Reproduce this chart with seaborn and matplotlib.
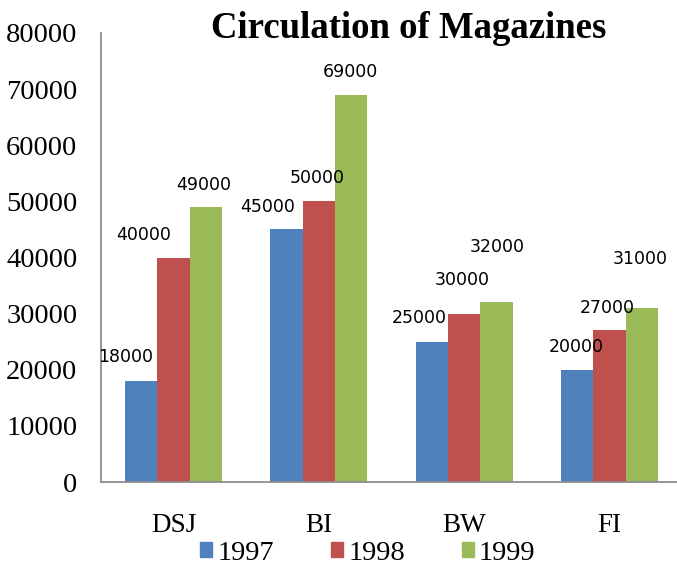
import matplotlib
matplotlib.use("Agg")
import matplotlib.pyplot as plt
import matplotlib.patches as mpatches
import seaborn as sns
import pandas as pd

# ---- data ----
categories = ["DSJ", "BI", "BW", "FI"]
years = ["1997", "1998", "1999"]
values_1997 = [18000, 45000, 25000, 20000]
values_1998 = [40000, 50000, 30000, 27000]
values_1999 = [49000, 69000, 32000, 31000]
colors = ["#4F81BD", "#C0504D", "#9BBB59"]
title = "Circulation of Magazines"

# label offsets (pixels) relative to bar top-centre, per year then per category
label_dx = [[-16, -19, -13, -1], [-30, -2, -2, -2], [-2, -1, 1, -1]]
label_dy = [[24, 22, 24, 23], [23, 23, 34, 22], [22, 23, 55, 49]]

rows = []
for yr, vals in zip(years, [values_1997, values_1998, values_1999]):
    for c, v in zip(categories, vals):
        rows.append({"Magazine": c, "Year": yr, "Circulation": v})
df = pd.DataFrame(rows)

sns.set_style("white")
plt.rcParams["font.family"] = ["DejaVu Sans"]
plt.rcParams["text.color"] = "black"

W, H = 677, 567
fig = plt.figure(figsize=(W / 100, H / 100), dpi=100)
ax = fig.add_axes([101 / W, (H - 482) / H, 581 / W, 449 / H])

sns.barplot(data=df, x="Magazine", y="Circulation", hue="Year",
            palette=colors, width=0.667, saturation=1, ax=ax,
            linewidth=0, legend=False, errorbar=None)

ax.set_ylim(0, 80000)
ax.set_xlim(-0.5, len(categories) - 0.5)
ax.set_yticks(range(0, 80001, 10000))
ax.set_yticklabels([str(v) for v in range(0, 80001, 10000)],
                   family="Liberation Serif", fontsize=20.5)
ax.set_xticks(range(len(categories)))
ax.set_xticklabels(categories, family="Liberation Serif", fontsize=19.5)
ax.set_xlabel("")
ax.set_ylabel("")

spine_col = "#8C8C8C"
for s in ["top", "right"]:
    ax.spines[s].set_visible(False)
for s in ["left", "bottom"]:
    ax.spines[s].set_color(spine_col)
    ax.spines[s].set_linewidth(1.3)

ax.tick_params(axis="y", which="major", direction="out", length=6,
               width=1.3, color=spine_col, pad=11, labelcolor="black")
ax.tick_params(axis="x", which="major", length=0, pad=22, labelcolor="black")
ax.set_xticks([i - 0.5 for i in range(len(categories) + 1)], minor=True)
ax.tick_params(axis="x", which="minor", direction="out", length=6,
               width=1.3, color=spine_col)

# value labels
for yi, cont in enumerate(ax.containers):
    for ci, bar in enumerate(cont):
        h = bar.get_height()
        ax.annotate(f"{int(h)}", (bar.get_x() + bar.get_width() / 2, h),
                    xytext=(label_dx[yi][ci], label_dy[yi][ci]),
                    textcoords="offset pixels", ha="center", va="center",
                    fontsize=12.5, family="DejaVu Sans", color="black")

fig.text(409 / W, 1 - 28 / H, title, ha="center", va="center",
         family="Liberation Serif", fontweight="bold", fontsize=26.5,
         color="black")

handles = [mpatches.Patch(color=c, label=y) for c, y in zip(colors, years)]
leg = fig.legend(handles=handles, loc="center", bbox_to_anchor=(368 / W, 1 - 553 / H),
                 ncol=3, frameon=False, handlelength=0.42, handleheight=0.42,
                 handletextpad=0.18, columnspacing=2.0, labelcolor="black",
                 prop={"family": "Liberation Serif", "size": 20.5})

fig.savefig("out.png", dpi=100)
